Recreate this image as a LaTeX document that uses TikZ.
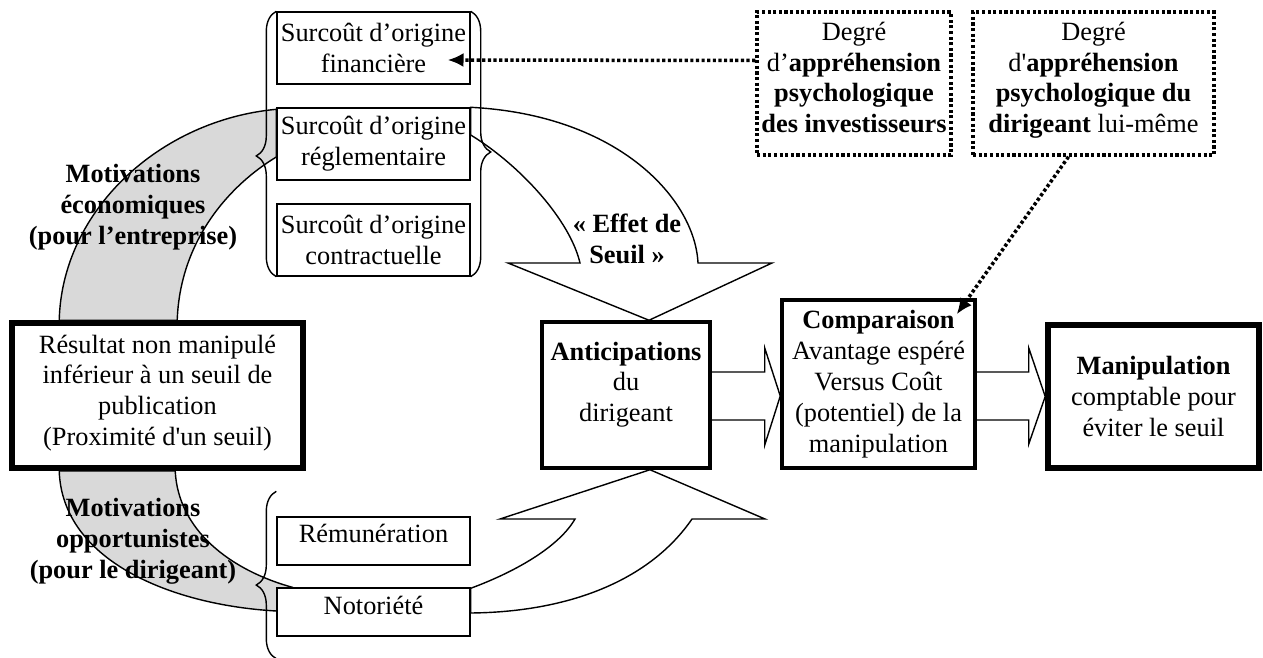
\documentclass[tikz,border=0pt]{standalone}
\usepackage{fontspec}
\setmainfont{Liberation Serif}
\usetikzlibrary{arrows.meta,calc,positioning,decorations.pathreplacing,backgrounds}

\begin{document}
\begin{tikzpicture}[x=0.02cm, y=-0.02cm,
    box/.style={draw, line width=0.8pt, fill=white, inner sep=0pt, align=center},
    thickbox/.style={box, line width=2pt},
    heavybox/.style={box, line width=3.2pt},
    dotbox/.style={draw, line width=2pt, dash pattern=on 1.8pt off 1.4pt, inner sep=0pt, align=center},
    dotline/.style={line width=2pt, dash pattern=on 1.8pt off 1.4pt},
    lbl/.style={align=center, font=\fontsize{15}{17.6}\selectfont\bfseries},
    blockarrow/.style={draw, line width=0.8pt, fill=white},
    band/.style={draw, line width=0.8pt, fill=gray!30},
    bracket/.style={line width=0.8pt, decorate, decoration={brace, amplitude=11.4pt, aspect=#1}}]
    \tikzstyle{every node}=[font=\fontsize{15}{17.6}\selectfont]
    \useasboundingbox (0,0) rectangle (1263,658);

    % surcouts
    \node[box, minimum width=3.86cm, minimum height=1.44cm] (fin) at (373.5,48) {Surcoût d’origine\\financière};
    \node[box, minimum width=3.86cm, minimum height=1.44cm] (reg) at (373.5,144) {Surcoût d’origine\\réglementaire};
    \node[box, minimum width=3.86cm, minimum height=1.44cm] (con) at (373.5,240) {Surcoût d’origine\\contractuelle};
    \node[box, minimum width=3.86cm, minimum height=0.96cm, text depth=9pt] (rem) at (373.5,541) {Rémunération};
    \node[box, minimum width=3.86cm, minimum height=0.96cm, text depth=8pt] (noto) at (373.5,612) {Notoriété};

    % chaine principale
    \node[heavybox, minimum width=5.82cm, minimum height=2.9cm, text depth=6pt] (res) at (157.5,395.5) {Résultat non manipulé\\inférieur à un seuil de\\publication\\(Proximité d\textquotesingle un seuil)};
    \node[thickbox, minimum width=3.36cm, minimum height=2.92cm, text depth=15pt] (anti) at (626,395) {\textbf{Anticipations}\\du\\dirigeant};
    \node[thickbox, minimum width=3.86cm, minimum height=3.36cm] (comp) at (878.5,384) {\textbf{Comparaison}\\Avantage espéré\\Versus Coût\\(potentiel) de la\\manipulation};
    \node[heavybox, minimum width=4.22cm, minimum height=2.86cm] (manip) at (1153.5,396.5) {\textbf{Manipulation}\\comptable pour\\éviter le seuil};

    % degres d'apprehension
    \node[dotbox, minimum width=3.88cm, minimum height=2.86cm, text depth=7pt] (inv) at (854,83.5) {Degré\\d’\textbf{appréhension}\\\textbf{psychologique}\\\textbf{des investisseurs}};
    \node[dotbox, minimum width=4.82cm, minimum height=2.86cm, text depth=7pt] (dir) at (1093.5,83.5) {Degré\\d\textquotesingle\textbf{appréhension}\\\textbf{psychologique du}\\\textbf{dirigeant} lui-même};

    % motivations
    \node[lbl] (eco) at (133,207) {Motivations\\économiques\\(pour l’entreprise)};
    \node[lbl] (opp) at (133,541) {Motivations\\opportunistes\\(pour le dirigeant)};
    \node[lbl] (seuil) at (627,239) {« Effet de\\Seuil »};

    % accolades
    \draw[bracket=0.455] (con.south west) -- (fin.north west);
    \draw[bracket=0.53] (fin.north east) -- (con.south east);
    \draw[bracket=0.44] ($(noto.south west)+(0,22)$) -- ($(rem.north west)+(0,-25)$);

    % fleches pointillees
    \draw[dotline, -{Latex[length=9pt, width=8pt]}] ($(inv.west)+(0,-23)$) -- ($(fin.east)+(-23,12)$);
    \draw[dotline, -{Latex[length=9pt, width=8pt]}] ($(dir.south)+(-25,0)$) -- ($(comp.north east)+(-20,16)$);

    \begin{scope}[on background layer]
      % bandes grises
      \draw[band] ($(res.north west)+(50,0)$) .. controls (62,210) and (160,120) .. ($(reg.north west)+(0,2)$)
        -- ($(reg.west)+(0,13)$) .. controls (230,185) and (180,240) .. ($(res.north west)+(168,0)$) -- cycle;
      \draw[band] ($(res.south west)+(50,0)$) .. controls (62,560) and (170,605) .. ($(noto.west)+(0,-1)$)
        -- ($(noto.north west)+(16,0)$) .. controls (230,570) and (178,530) .. ($(res.south west)+(166,0)$) -- cycle;
      % effet de seuil
      \draw[blockarrow] (reg.north east) .. controls (620,115) and (695,200) .. (698,263) -- (772,263)
        -- ($(anti.north)+(23,0)$) -- (508,263) -- (580,263) .. controls (570,220) and (520,165) .. ($(reg.east)+(0,-9)$) -- cycle;
      \draw[blockarrow] ($(noto.north east)+(0,1)$) .. controls (520,570) and (560,545) .. (575,519) -- (500,519)
        -- ($(anti.south)+(24,0)$) -- (765,519) -- (692,519) .. controls (650,580) and (570,612) .. ($(noto.east)+(0,1)$) -- cycle;
      % fleches larges
      \draw[blockarrow] ($(anti.east)+(0,-23)$) -- ++(53,0) -- ++(0,-24) -- ($(comp.west)+(0,12)$)
        -- ($(anti.east)+(53,50)$) -- ++(0,-25) -- ($(anti.east)+(0,25)$);
      \draw[blockarrow] ($(comp.east)+(0,-12)$) -- ++(52,0) -- ++(0,-24) -- (manip.west)
        -- ($(comp.east)+(52,60)$) -- ++(0,-24) -- ($(comp.east)+(0,36)$);
    \end{scope}
\end{tikzpicture}
\end{document}
